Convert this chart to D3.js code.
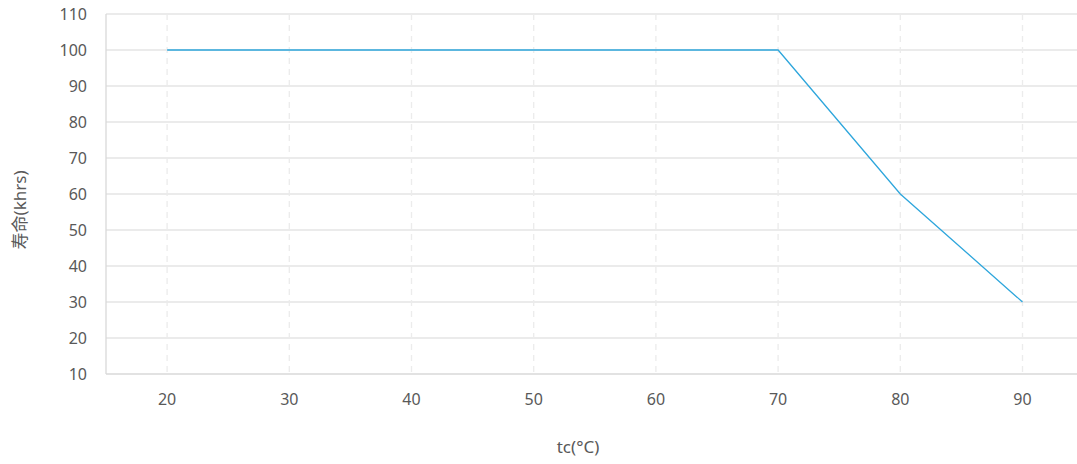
<!DOCTYPE html>
<html>
<head>
<meta charset="utf-8">
<script src="https://cdn.jsdelivr.net/npm/d3@7"></script>
<style>
  body { margin: 0; background: #fff; }
  svg text { font-family: "Noto Sans", "Noto Sans CJK SC", sans-serif; fill: #595959; }
</style>
</head>
<body>
<svg id="chart" width="1077" height="464"></svg>
<script>
const temps = [20, 30, 40, 50, 60, 70, 80, 90];
const life = [100, 100, 100, 100, 100, 100, 60, 30];
const yTicks = [10, 20, 30, 40, 50, 60, 70, 80, 90, 100, 110];

const svg = d3.select('#chart');
const plotLeft = 106, plotTop = 14, plotBottom = 374;
const band = 122.2;

const x = d3.scaleLinear().domain([15, 95]).range([plotLeft, plotLeft + band * 8]);
const y = d3.scaleLinear().domain([10, 110]).range([plotBottom, plotTop]);

// horizontal grid
svg.append('g').selectAll('line').data(yTicks).join('line')
  .attr('x1', plotLeft).attr('x2', 1077)
  .attr('y1', d => y(d)).attr('y2', d => y(d))
  .attr('stroke', d => d === 10 ? '#d9d9d9' : '#e4e4e4')
  .attr('stroke-width', 1.3);

// vertical dashed grid
svg.append('g').selectAll('line').data(temps).join('line')
  .attr('x1', d => x(d)).attr('x2', d => x(d))
  .attr('y1', plotTop).attr('y2', plotBottom)
  .attr('stroke', '#ececec')
  .attr('stroke-width', 1.3)
  .attr('stroke-dasharray', '6,5');

// left axis line
svg.append('line')
  .attr('x1', plotLeft).attr('x2', plotLeft)
  .attr('y1', plotTop).attr('y2', plotBottom)
  .attr('stroke', '#d9d9d9').attr('stroke-width', 1.3);

// y tick labels
svg.append('g').selectAll('text').data(yTicks).join('text')
  .attr('x', 87).attr('y', d => y(d) + 5.5)
  .attr('text-anchor', 'end')
  .attr('font-size', 16)
  .text(d => d);

// x tick labels
svg.append('g').selectAll('text').data(temps).join('text')
  .attr('x', d => x(d)).attr('y', 405)
  .attr('text-anchor', 'middle')
  .attr('font-size', 16)
  .text(d => d);

// series
const line = d3.line().x((d, i) => x(temps[i])).y(d => y(d));
svg.append('path')
  .datum(life)
  .attr('d', line)
  .attr('fill', 'none')
  .attr('stroke', '#2ea6dc')
  .attr('stroke-width', 1.3);

// axis titles
svg.append('text')
  .attr('x', 578).attr('y', 453)
  .attr('text-anchor', 'middle')
  .attr('font-size', 17)
  .text('tc(°C)');

svg.append('text')
  .attr('transform', 'translate(26,210) rotate(-90)')
  .attr('text-anchor', 'middle')
  .attr('font-size', 17)
  .text('寿命(khrs)');
</script>
</body>
</html>
